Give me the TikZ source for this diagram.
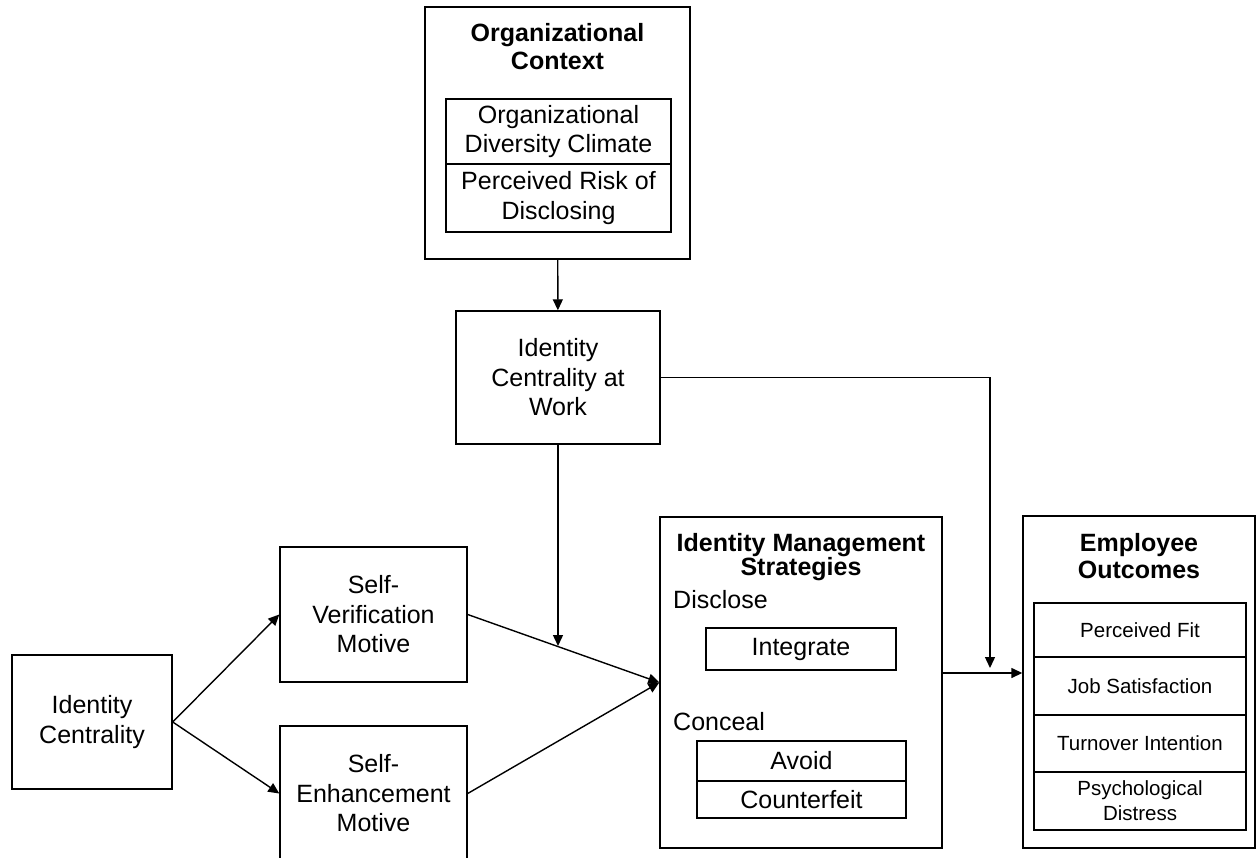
\documentclass[tikz,border=0pt]{standalone}
\usepackage{fontspec}
\setmainfont{Liberation Sans}
\usetikzlibrary{arrows.meta}
\begin{document}
\begin{tikzpicture}[x=1pt,y=-1pt,
  lw/.style={line width=1.4pt},
  box/.style={draw,lw,inner sep=0pt,align=center,
     font=\fontsize{25}{29.5}\selectfont},
  small/.style={draw,lw,inner sep=0pt,align=center,
     font=\fontsize{20.5}{25}\selectfont},
  ttl/.style={inner sep=0pt,align=center},
  lbl/.style={inner sep=0pt,anchor=west,font=\fontsize{25}{29.5}\selectfont},
  arr/.style={lw,-{Triangle[length=11pt,width=10pt]}}]
\clip (0,0) rectangle (1257,858);
\fill[white] (0,0) rectangle (1257,858);
% Organizational context
\node[box,minimum width=265pt,minimum height=252pt] (OC) at (557.5,133) {};
\node[ttl,font=\fontsize{25}{28}\selectfont\bfseries] (OCt) at (557.5,47) {Organizational\\Context};
\node[box,minimum width=225pt,minimum height=65pt] (OD) at (558.5,131.5) {Organizational\\Diversity Climate};
\node[box,minimum width=225pt,minimum height=68pt] (PR) at (558.5,198) {Perceived Risk of\\Disclosing};
% Identity centrality at work
\node[box,minimum width=204pt,minimum height=133pt] (ICW) at (558,377.5) {Identity\\Centrality at\\Work};
% left column
\node[box,minimum width=160pt,minimum height=134pt] (IC) at (92,722) {Identity\\Centrality};
\node[box,minimum width=187pt,minimum height=135pt] (SV) at (373.5,614.5) {Self-\\Verification\\Motive};
\node[box,minimum width=187pt,minimum height=135pt] (SE) at (373.5,793.5) {Self-\\Enhancement\\Motive};
% Identity management strategies
\node[box,minimum width=282pt,minimum height=331pt] (IMS) at (801,682.5) {};
\node[ttl,font=\fontsize{25}{24.5}\selectfont\bfseries] (IMSt) at (801,557) {Identity Management\\Strategies};
\node[lbl] (DI) at (673,600) {Disclose};
\node[box,minimum width=190pt,minimum height=42pt] (INT) at (801,649) {Integrate};
\node[lbl] (CO) at (673,722) {Conceal};
\node[box,minimum width=209pt,minimum height=40pt] (AV) at (801.5,761) {Avoid};
\node[box,minimum width=209pt,minimum height=37pt] (CF) at (801.5,799.5) {Counterfeit};
% Employee outcomes
\node[box,minimum width=232pt,minimum height=332pt] (EO) at (1139,682) {};
\node[ttl,font=\fontsize{25}{27}\selectfont\bfseries] (EOt) at (1139,556) {Employee\\Outcomes};
\node[small,minimum width=212pt,minimum height=54pt] (PF) at (1140,630) {Perceived Fit};
\node[small,minimum width=212pt,minimum height=58pt] (JS) at (1140,686) {Job Satisfaction};
\node[small,minimum width=212pt,minimum height=57pt] (TI) at (1140,743.5) {Turnover Intention};
\node[small,minimum width=212pt,minimum height=58pt] (PD) at (1140,801) {Psychological\\Distress};
% connectors
\coordinate (m1) at (558,646);
\coordinate (m2) at (990,668);
\coordinate (hl) at (0,673);
\draw[arr] (OC) -- (ICW);
\draw[arr] (ICW.south) -- (m1);
\draw[arr] (ICW.east) -| (m2);
\draw[arr] (IC.east) -- (SV.west);
\draw[arr] (IC.east) -- (SE.west);
\draw[arr] (SV.east) -- (IMS.west);
\draw[arr] (SE.east) -- (IMS.west);
\draw[arr] (IMS.east |- hl) -- (EO.west |- hl);
\end{tikzpicture}
\end{document}
